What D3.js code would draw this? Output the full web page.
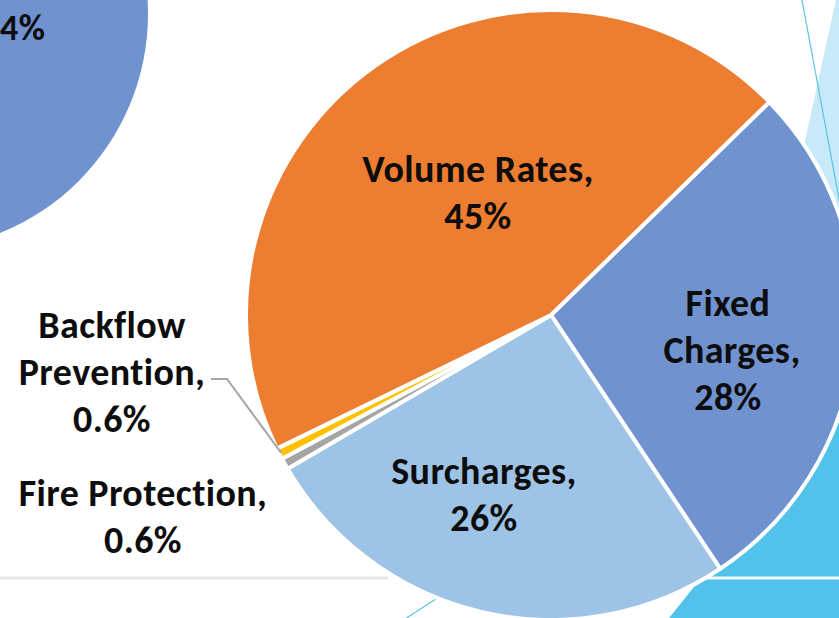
<!DOCTYPE html>
<html lang="en">
<head>
<meta charset="UTF-8">
<title>Revenue by Source</title>
<script src="https://d3js.org/d3.v7.min.js"></script>
<style>
  html, body { margin: 0; padding: 0; background: #ffffff; }
  body { width: 839px; height: 618px; overflow: hidden; }
  .lbl { font-family: Calibri, Carlito, Lato, sans-serif; font-weight: bold; fill: #0d0d0d; letter-spacing: 0.4px; }
</style>
</head>
<body>
<div id="chart"></div>
<script>
// data
var categories = ["Fixed Charges", "Surcharges", "Fire Protection", "Backflow Prevention", "Volume Rates"];
var values = [28, 26, 0.6, 0.6, 45];
var pctLabels = ["28%", "26%", "0.6%", "0.6%", "45%"];
// label lines (name split the way the slide wraps it)
var nameLines = [["Fixed", "Charges,"], ["Surcharges,"], ["Fire Protection,"], ["Backflow", "Prevention,"], ["Volume Rates,"]];

// set the dimensions
var width = 839, height = 618;
var cx = 551, cy = 315, radius = 305;

var svg = d3.select("#chart")
  .append("svg")
    .attr("width", width)
    .attr("height", height);

// slide decoration (background shapes behind the chart)
svg.append("circle")
  .attr("cx", -88).attr("cy", 14).attr("r", 236)
  .style("fill", "#7093d0");

svg.append("text")
  .attr("class", "lbl")
  .attr("x", 0).attr("y", 40)
  .style("font-size", "36px")
  .text("4%");

svg.append("polygon")
  .attr("points", "836,0 839,0 839,320 760,320 792,200")
  .style("fill", "#c8eaf8");

svg.append("line")
  .attr("x1", 802).attr("y1", 0).attr("x2", 842).attr("y2", 215)
  .style("stroke", "#5cc3e6").style("stroke-width", 1.2);

svg.append("polygon")
  .attr("points", "669,618 722,552 839,380 839,618")
  .style("fill", "#52c2ea");

svg.append("line")
  .attr("x1", 0).attr("y1", 578).attr("x2", 388).attr("y2", 578)
  .style("stroke", "#e6e6e6").style("stroke-width", 3);
svg.append("line")
  .attr("x1", 700).attr("y1", 578).attr("x2", 839).attr("y2", 578)
  .style("stroke", "#f2f8fb").style("stroke-width", 3);

svg.append("line")
  .attr("x1", 402).attr("y1", 621).attr("x2", 465).attr("y2", 580)
  .style("stroke", "#5cc3e6").style("stroke-width", 1.2);

// the pie
var color = d3.scaleOrdinal()
  .domain(categories)
  .range(["#7093d0", "#9dc3e6", "#a5a5a5", "#ffc000", "#ed7d31"]);

var startDeg = 45.7;
var pie = d3.pie()
  .sort(null)
  .value(function(d) { return d.value; })
  .startAngle(startDeg * Math.PI / 180)
  .endAngle(startDeg * Math.PI / 180 + 2 * Math.PI);

var data = categories.map(function(c, i) {
  return { name: c, value: values[i], pct: pctLabels[i], lines: nameLines[i] };
});

var arc = d3.arc().innerRadius(0).outerRadius(radius);

var g = svg.append("g")
  .attr("transform", "translate(" + cx + "," + cy + ")");

g.selectAll("path")
  .data(pie(data))
  .enter()
  .append("path")
    .attr("d", arc)
    .style("fill", function(d) { return color(d.data.name); })
    .style("stroke", "#ffffff")
    .style("stroke-width", 4)
    .style("stroke-linejoin", "round");

// leader line for Backflow Prevention, ends on the outer edge of its slice
var arcs = pie(data);
var bf = arcs[3];
var bfMid = (bf.startAngle + bf.endAngle) / 2;
var edgeX = cx + (radius - 2) * Math.sin(bfMid);
var edgeY = cy - (radius - 2) * Math.cos(bfMid);
svg.append("polyline")
  .attr("points", [[211, 379], [227, 379], [edgeX, edgeY]].join(" "))
  .style("fill", "none")
  .style("stroke", "#a6a6a6")
  .style("stroke-width", 2);

// label layout: centre x and first baseline for each slice
var labelPos = {
  "Fixed Charges": [728, 316],
  "Surcharges": [484, 484],
  "Fire Protection": [143, 506],
  "Backflow Prevention": [112, 338],
  "Volume Rates": [478, 182]
};
var lineGap = 47;

data.forEach(function(d) {
  var p = labelPos[d.name];
  var t = svg.append("text")
    .attr("class", "lbl")
    .attr("text-anchor", "middle")
    .style("font-size", "38px");
  d.lines.concat([d.pct]).forEach(function(s, i) {
    t.append("tspan")
      .attr("x", p[0] + (d.name == "Fixed Charges" && i == 1 ? 4 : 0))
      .attr("y", p[1] + i * lineGap)
      .text(s);
  });
});
</script>
</body>
</html>
